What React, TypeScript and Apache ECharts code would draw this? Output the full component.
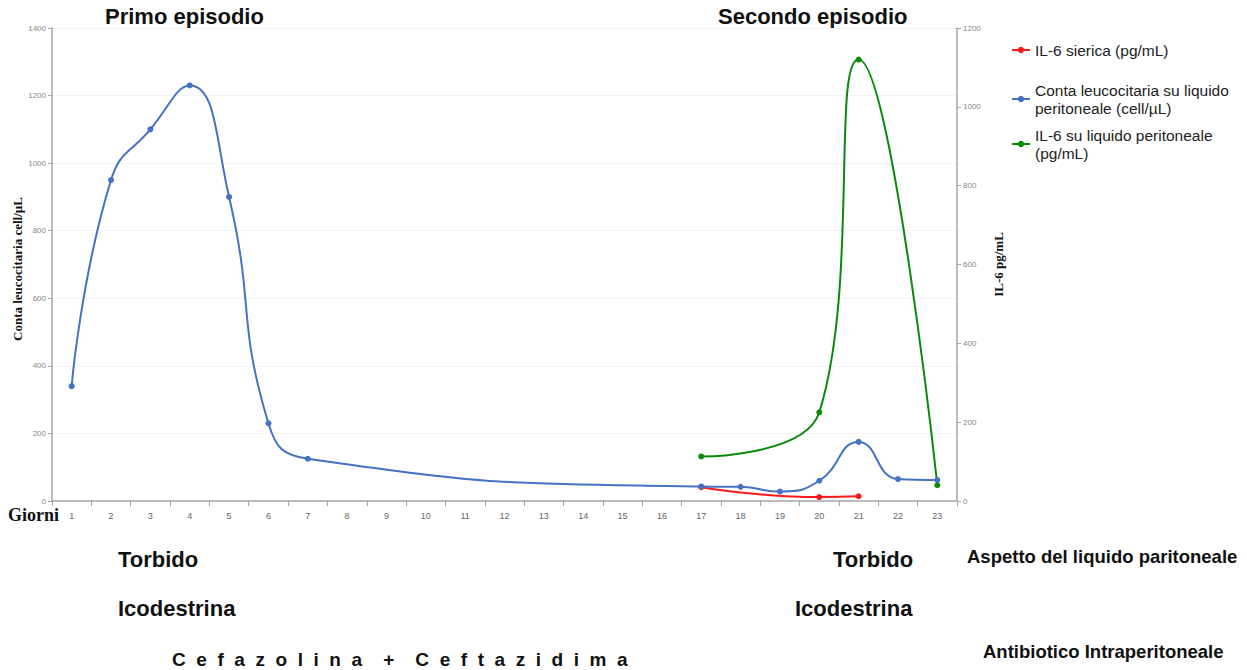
import React, { useEffect, useRef } from "react";
import * as echarts from "echarts";

const days = ["1","2","3","4","5","6","7","8","9","10","11","12","13","14","15","16","17","18","19","20","21","22","23"];
const leucoPoints: [string, number][] = [
  ["1", 340], ["2", 950], ["3", 1100], ["4", 1230], ["5", 900], ["6", 230], ["7", 125],
  ["17", 43], ["18", 42], ["19", 28], ["20", 60], ["21", 175], ["22", 65], ["23", 62],
];
const il6SeroPoints: [string, number][] = [["17", 35], ["20", 10], ["21", 12]];
const il6PeritPoints: [string, number][] = [["17", 113], ["20", 225], ["21", 1120], ["23", 40]];

const seriesNames = [
  "IL-6 sierica (pg/mL)",
  "Conta leucocitaria su liquido\nperitoneale (cell/µL)",
  "IL-6 su liquido peritoneale\n(pg/mL)",
];

const bold = { fontFamily: "Liberation Sans, Arial, sans-serif", fontWeight: "bold", fill: "#111" };

export default function App() {
  const ref = useRef<HTMLDivElement>(null);
  useEffect(() => {
    const chart = echarts.init(ref.current!, null, { renderer: "svg" });
    const axisLine = { show: true, lineStyle: { color: "#a6a6a6", width: 1.5 } };
    const legendBase = {
      orient: "vertical", left: 1006, itemWidth: 18, itemHeight: 8, itemGap: 0,
      textStyle: { fontSize: 15.5, color: "#222", fontFamily: "Liberation Sans, Arial", lineHeight: 18 },
    };
    chart.setOption({
      animation: false,
      backgroundColor: "#fff",
      grid: { left: 52, right: 290, top: 28, bottom: 169, outerBoundsMode: "none", containLabel: false },
      xAxis: {
        type: "category",
        data: days,
        axisLine,
        axisTick: { show: true, lineStyle: { color: "#a6a6a6" } },
        axisLabel: { color: "#666", fontSize: 9, margin: 10, fontFamily: "Liberation Sans, Arial" },
      },
      yAxis: [
        {
          type: "value", min: 0, max: 1400, interval: 200,
          axisLine, axisTick: { show: true, length: 4, lineStyle: { color: "#a6a6a6" } },
          axisLabel: { color: "#888", fontSize: 8, margin: 6, formatter: (v: number) => String(v) },
          splitLine: { show: true, lineStyle: { color: "#f4f4f4" } },
          name: "Conta leucocitaria cell/µL",
          nameLocation: "middle", nameGap: 28, nameRotate: 90, nameMoveOverlap: false,
          nameTextStyle: { fontFamily: "Liberation Serif, Times New Roman, serif", fontWeight: "bold", fontSize: 13, color: "#111", padding: [0, 9, 0, 0] },
        },
        {
          type: "value", min: 0, max: 1200, interval: 200, position: "right",
          axisLine, axisTick: { show: true, length: 4, lineStyle: { color: "#a6a6a6" } },
          axisLabel: { color: "#888", fontSize: 8, margin: 6, formatter: (v: number) => String(v) },
          splitLine: { show: false },
          name: "IL-6 pg/mL",
          nameLocation: "middle", nameGap: 22, nameRotate: 90,
          nameTextStyle: { fontFamily: "Liberation Serif, Times New Roman, serif", fontWeight: "bold", fontSize: 13, color: "#111" },
        },
      ],
      legend: [
        { ...legendBase, top: 36, data: [seriesNames[0]] },
        { ...legendBase, top: 76, data: [seriesNames[1]] },
        { ...legendBase, top: 121, data: [seriesNames[2]] },
      ],
      series: [
        {
          name: seriesNames[0], type: "line", yAxisIndex: 1, data: il6SeroPoints,
          smooth: true, connectNulls: true, symbol: "circle", symbolSize: 6,
          itemStyle: { color: "#ff1a1a" }, lineStyle: { width: 2, color: "#ff1a1a" },
        },
        {
          name: seriesNames[1], type: "line", yAxisIndex: 0, data: leucoPoints,
          smooth: true, connectNulls: true, symbol: "circle", symbolSize: 6,
          itemStyle: { color: "#4472c4" }, lineStyle: { width: 2, color: "#4472c4" },
        },
        {
          name: seriesNames[2], type: "line", yAxisIndex: 1, data: il6PeritPoints,
          smooth: true, connectNulls: true, symbol: "circle", symbolSize: 6,
          itemStyle: { color: "#0a8a0a" }, lineStyle: { width: 2, color: "#0a8a0a" },
        },
      ],
      graphic: [
        { type: "text", left: 105, top: 5, style: { ...bold, text: "Primo episodio", fontSize: 22 } },
        { type: "text", left: 718, top: 5, style: { ...bold, text: "Secondo episodio", fontSize: 22 } },
        { type: "text", left: 8, top: 506, style: { text: "Giorni", fontSize: 18, fontWeight: "bold", fontFamily: "Liberation Serif, serif", fill: "#111" } },
        { type: "text", left: 118, top: 548, style: { ...bold, text: "Torbido", fontSize: 22 } },
        { type: "text", left: 118, top: 597, style: { ...bold, text: "Icodestrina", fontSize: 22 } },
        { type: "text", left: 172, top: 650, style: { ...bold, text: "C  e  f  a  z  o  l  i  n  a    +    C  e  f  t  a  z  i  d  i  m  a", fontSize: 19 } },
        { type: "text", left: 833, top: 548, style: { ...bold, text: "Torbido", fontSize: 22 } },
        { type: "text", left: 795, top: 597, style: { ...bold, text: "Icodestrina", fontSize: 22 } },
        { type: "text", left: 967, top: 547, style: { ...bold, text: "Aspetto del liquido paritoneale", fontSize: 18.5 } },
        { type: "text", left: 983, top: 642, style: { ...bold, text: "Antibiotico Intraperitoneale", fontSize: 18.5 } },
      ],
    });
    return () => chart.dispose();
  }, []);
  return <div ref={ref} style={{ width: 1247, height: 670, position: "absolute", left: 0, top: 0 }} />;
}
